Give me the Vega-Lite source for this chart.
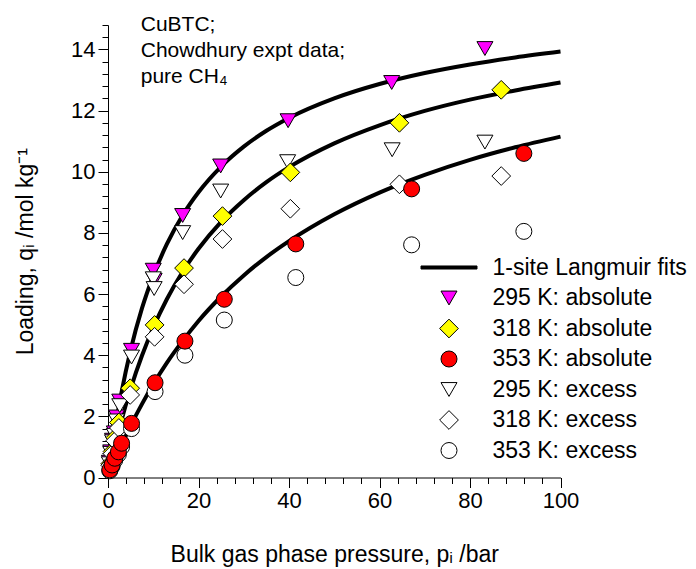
{
  "$schema": "https://vega.github.io/schema/vega-lite/v6.json",
  "width": 452.5,
  "height": 452.5,
  "autosize": "none",
  "padding": {"left": 108, "top": 25, "right": 135.5, "bottom": 91.5},
  "background": "white",
  "config": {
    "view": {"stroke": null},
    "font": "Liberation Sans",
    "axis": {
      "domainColor": "black",
      "domainWidth": 1,
      "ticks": true,
      "tickColor": "black",
      "tickWidth": 1,
      "grid": false,
      "labelColor": "black",
      "labelFont": "Liberation Sans",
      "labelFontSize": 22,
      "titleFont": "Liberation Sans",
      "titleFontSize": 23,
      "titleFontWeight": "normal",
      "titleColor": "black",
      "labelOverlap": false,
      "labelFlush": false
    }
  },
  "datasets": {
    "fits": [
      {"p": 0, "q": 0, "T": "295"}, {"p": 1, "q": 1.05, "T": "295"}, {"p": 2, "q": 1.98, "T": "295"}, {"p": 3, "q": 2.79, "T": "295"}, {"p": 5, "q": 4.17, "T": "295"}, {"p": 7.5, "q": 5.53, "T": "295"}, {"p": 10, "q": 6.6, "T": "295"}, {"p": 13, "q": 7.63, "T": "295"}, {"p": 16.5, "q": 8.58, "T": "295"}, {"p": 20, "q": 9.33, "T": "295"}, {"p": 25, "q": 10.17, "T": "295"}, {"p": 30, "q": 10.82, "T": "295"}, {"p": 35, "q": 11.34, "T": "295"}, {"p": 40, "q": 11.76, "T": "295"}, {"p": 50, "q": 12.4, "T": "295"}, {"p": 60, "q": 12.87, "T": "295"}, {"p": 70, "q": 13.23, "T": "295"}, {"p": 80, "q": 13.51, "T": "295"}, {"p": 90, "q": 13.74, "T": "295"}, {"p": 100, "q": 13.93, "T": "295"},
      {"p": 0, "q": 0, "T": "318"}, {"p": 1, "q": 0.68, "T": "318"}, {"p": 2, "q": 1.3, "T": "318"}, {"p": 3, "q": 1.88, "T": "318"}, {"p": 5, "q": 2.9, "T": "318"}, {"p": 7.5, "q": 3.98, "T": "318"}, {"p": 10, "q": 4.9, "T": "318"}, {"p": 13, "q": 5.83, "T": "318"}, {"p": 16.5, "q": 6.73, "T": "318"}, {"p": 20, "q": 7.48, "T": "318"}, {"p": 25, "q": 8.36, "T": "318"}, {"p": 30, "q": 9.07, "T": "318"}, {"p": 35, "q": 9.66, "T": "318"}, {"p": 40, "q": 10.15, "T": "318"}, {"p": 50, "q": 10.93, "T": "318"}, {"p": 60, "q": 11.52, "T": "318"}, {"p": 70, "q": 11.99, "T": "318"}, {"p": 80, "q": 12.36, "T": "318"}, {"p": 90, "q": 12.66, "T": "318"}, {"p": 100, "q": 12.92, "T": "318"},
      {"p": 0, "q": 0, "T": "353"}, {"p": 1, "q": 0.37, "T": "353"}, {"p": 2, "q": 0.72, "T": "353"}, {"p": 3, "q": 1.06, "T": "353"}, {"p": 5, "q": 1.69, "T": "353"}, {"p": 7.5, "q": 2.4, "T": "353"}, {"p": 10, "q": 3.05, "T": "353"}, {"p": 13, "q": 3.75, "T": "353"}, {"p": 16.5, "q": 4.47, "T": "353"}, {"p": 20, "q": 5.12, "T": "353"}, {"p": 25, "q": 5.92, "T": "353"}, {"p": 30, "q": 6.61, "T": "353"}, {"p": 35, "q": 7.21, "T": "353"}, {"p": 40, "q": 7.73, "T": "353"}, {"p": 50, "q": 8.61, "T": "353"}, {"p": 60, "q": 9.32, "T": "353"}, {"p": 70, "q": 9.9, "T": "353"}, {"p": 80, "q": 10.39, "T": "353"}, {"p": 90, "q": 10.8, "T": "353"}, {"p": 100, "q": 11.15, "T": "353"}
    ],
    "pts": [
      {"p": 0.3, "q": 0.5, "series": "295 K: absolute"}, {"p": 0.6, "q": 0.84, "series": "295 K: absolute"}, {"p": 1.0, "q": 1.22, "series": "295 K: absolute"}, {"p": 1.4, "q": 1.46, "series": "295 K: absolute"}, {"p": 1.9, "q": 1.98, "series": "295 K: absolute"}, {"p": 2.6, "q": 2.5, "series": "295 K: absolute"}, {"p": 5.2, "q": 4.16, "series": "295 K: absolute"}, {"p": 10.0, "q": 6.78, "series": "295 K: absolute"}, {"p": 10.2, "q": 6.45, "series": "295 K: absolute"}, {"p": 16.5, "q": 8.57, "series": "295 K: absolute"}, {"p": 24.9, "q": 10.19, "series": "295 K: absolute"}, {"p": 39.8, "q": 11.67, "series": "295 K: absolute"}, {"p": 62.7, "q": 12.92, "series": "295 K: absolute"}, {"p": 83.3, "q": 14.03, "series": "295 K: absolute"},
      {"p": 0.3, "q": 0.45, "series": "295 K: excess"}, {"p": 0.6, "q": 0.79, "series": "295 K: excess"}, {"p": 1.0, "q": 1.17, "series": "295 K: excess"}, {"p": 1.4, "q": 1.38, "series": "295 K: excess"}, {"p": 1.9, "q": 1.85, "series": "295 K: excess"}, {"p": 2.6, "q": 2.35, "series": "295 K: excess"}, {"p": 5.2, "q": 3.94, "series": "295 K: excess"}, {"p": 10.0, "q": 6.5, "series": "295 K: excess"}, {"p": 10.2, "q": 6.18, "series": "295 K: excess"}, {"p": 16.5, "q": 8.01, "series": "295 K: excess"}, {"p": 24.9, "q": 9.37, "series": "295 K: excess"}, {"p": 39.7, "q": 10.33, "series": "295 K: excess"}, {"p": 62.8, "q": 10.72, "series": "295 K: excess"}, {"p": 83.3, "q": 10.97, "series": "295 K: excess"},
      {"p": 0.5, "q": 0.45, "series": "318 K: absolute"}, {"p": 1.0, "q": 0.85, "series": "318 K: absolute"}, {"p": 1.6, "q": 1.3, "series": "318 K: absolute"}, {"p": 2.4, "q": 1.8, "series": "318 K: absolute"}, {"p": 4.9, "q": 2.92, "series": "318 K: absolute"}, {"p": 10.3, "q": 4.99, "series": "318 K: absolute"}, {"p": 16.8, "q": 6.85, "series": "318 K: absolute"}, {"p": 25.3, "q": 8.55, "series": "318 K: absolute"}, {"p": 40.3, "q": 9.98, "series": "318 K: absolute"}, {"p": 64.4, "q": 11.6, "series": "318 K: absolute"}, {"p": 86.9, "q": 12.68, "series": "318 K: absolute"},
      {"p": 0.5, "q": 0.4, "series": "318 K: excess"}, {"p": 1.0, "q": 0.78, "series": "318 K: excess"}, {"p": 1.6, "q": 1.2, "series": "318 K: excess"}, {"p": 2.4, "q": 1.62, "series": "318 K: excess"}, {"p": 4.9, "q": 2.7, "series": "318 K: excess"}, {"p": 10.3, "q": 4.6, "series": "318 K: excess"}, {"p": 16.8, "q": 6.32, "series": "318 K: excess"}, {"p": 25.3, "q": 7.8, "series": "318 K: excess"}, {"p": 40.3, "q": 8.79, "series": "318 K: excess"}, {"p": 64.4, "q": 9.59, "series": "318 K: excess"}, {"p": 86.9, "q": 9.86, "series": "318 K: excess"},
      {"p": 0.4, "q": 0.22, "series": "353 K: excess"}, {"p": 0.9, "q": 0.37, "series": "353 K: excess"}, {"p": 1.5, "q": 0.57, "series": "353 K: excess"}, {"p": 2.3, "q": 0.76, "series": "353 K: excess"}, {"p": 3.0, "q": 1.0, "series": "353 K: excess"}, {"p": 5.2, "q": 1.6, "series": "353 K: excess"}, {"p": 10.4, "q": 2.81, "series": "353 K: excess"}, {"p": 17.0, "q": 4.0, "series": "353 K: excess"}, {"p": 25.7, "q": 5.15, "series": "353 K: excess"}, {"p": 41.5, "q": 6.54, "series": "353 K: excess"}, {"p": 67.1, "q": 7.61, "series": "353 K: excess"}, {"p": 91.9, "q": 8.05, "series": "353 K: excess"},
      {"p": 0.4, "q": 0.25, "series": "353 K: absolute"}, {"p": 0.9, "q": 0.41, "series": "353 K: absolute"}, {"p": 1.5, "q": 0.63, "series": "353 K: absolute"}, {"p": 2.3, "q": 0.84, "series": "353 K: absolute"}, {"p": 3.0, "q": 1.12, "series": "353 K: absolute"}, {"p": 5.2, "q": 1.77, "series": "353 K: absolute"}, {"p": 10.4, "q": 3.1, "series": "353 K: absolute"}, {"p": 17.0, "q": 4.46, "series": "353 K: absolute"}, {"p": 25.7, "q": 5.83, "series": "353 K: absolute"}, {"p": 41.5, "q": 7.64, "series": "353 K: absolute"}, {"p": 67.1, "q": 9.44, "series": "353 K: absolute"}, {"p": 91.9, "q": 10.6, "series": "353 K: absolute"}
    ]
  },
  "layer": [
    {
      "data": {"name": "fits"},
      "mark": {"type": "line", "stroke": "black", "strokeWidth": 4, "interpolate": "monotone"},
      "encoding": {
        "x": {
          "field": "p", "type": "quantitative",
          "scale": {"domain": [0, 100], "nice": false, "zero": false},
          "axis": {
            "title": "Bulk gas phase pressure, pᵢ /bar",
            "values": [0, 4, 8, 12, 16, 20, 24, 28, 32, 36, 40, 44, 48, 52, 56, 60, 64, 68, 72, 76, 80, 84, 88, 92, 96, 100],
            "tickCount": 200,
            "labelExpr": "datum.value % 20 == 0 ? format(datum.value, 'd') : ''",
            "tickSize": {"condition": {"test": "datum.value % 20 == 0", "value": 10}, "value": 6},
            "labelPadding": 3,
            "titlePadding": 32
          }
        },
        "y": {
          "field": "q", "type": "quantitative",
          "scale": {"domain": [0, 14.8], "nice": false, "zero": false},
          "axis": {
            "title": "Loading, qᵢ /mol kg⁻¹",
            "values": [0, 0.4, 0.8, 1.2, 1.6, 2, 2.4, 2.8, 3.2, 3.6, 4, 4.4, 4.8, 5.2, 5.6, 6, 6.4, 6.8, 7.2, 7.6, 8, 8.4, 8.8, 9.2, 9.6, 10, 10.4, 10.8, 11.2, 11.6, 12, 12.4, 12.8, 13.2, 13.6, 14, 14.4, 14.8],
            "tickCount": 200,
            "labelExpr": "datum.value % 2 == 0 ? format(datum.value, 'd') : ''",
            "tickSize": {"condition": {"test": "datum.value % 2 == 0", "value": 10}, "value": 6},
            "labelPadding": 3,
            "titlePadding": 33
          }
        },
        "detail": {"field": "T", "type": "nominal"}
      }
    },
    {
      "data": {"name": "pts"},
      "mark": {"type": "point", "filled": true, "size": 256, "strokeWidth": 1, "opacity": 1},
      "encoding": {
        "x": {"field": "p", "type": "quantitative"},
        "y": {"field": "q", "type": "quantitative"},
        "shape": {
          "field": "series", "type": "nominal",
          "scale": {
            "domain": ["1-site Langmuir fits", "295 K: absolute", "318 K: absolute", "353 K: absolute", "295 K: excess", "318 K: excess", "353 K: excess"],
            "range": ["M-3.5,-0.19H3.5V0.19H-3.5Z", "triangle-down", "M-1.17,0L0,-1.17L1.17,0L0,1.17Z", "circle", "triangle-down", "M-1.17,0L0,-1.17L1.17,0L0,1.17Z", "circle"]
          },
          "legend": {
            "title": null, "orient": "none", "legendX": 329.5, "legendY": 231, "padding": 0,
            "labelFont": "Liberation Sans", "labelFontSize": 23, "labelColor": "black", "labelOffset": 32,
            "symbolSize": 256, "symbolStrokeWidth": 1, "symbolStrokeColor": "black", "rowPadding": 6.5, "labelLimit": 400
          }
        },
        "fill": {
          "field": "series", "type": "nominal",
          "scale": {
            "domain": ["1-site Langmuir fits", "295 K: absolute", "318 K: absolute", "353 K: absolute", "295 K: excess", "318 K: excess", "353 K: excess"],
            "range": ["black", "#ff00ff", "#ffff00", "#ff0000", "white", "white", "white"]
          },
          "legend": {
            "title": null, "orient": "none", "legendX": 329.5, "legendY": 231, "padding": 0,
            "labelFont": "Liberation Sans", "labelFontSize": 23, "labelColor": "black", "labelOffset": 32,
            "symbolSize": 256, "symbolStrokeWidth": 1, "symbolStrokeColor": "black", "rowPadding": 6.5, "labelLimit": 400
          }
        },
        "stroke": {
          "field": "series", "type": "nominal",
          "scale": {
            "domain": ["1-site Langmuir fits", "295 K: absolute", "318 K: absolute", "353 K: absolute", "295 K: excess", "318 K: excess", "353 K: excess"],
            "range": ["black", "black", "black", "black", "black", "black", "black"]
          },
          "legend": {
            "title": null, "orient": "none", "legendX": 329.5, "legendY": 231, "padding": 0,
            "labelFont": "Liberation Sans", "labelFontSize": 23, "labelColor": "black", "labelOffset": 32,
            "symbolSize": 256, "symbolStrokeWidth": 1, "symbolStrokeColor": "black", "rowPadding": 6.5, "labelLimit": 400
          }
        }
      }
    },
    {
      "data": {"values": [{"line": "a"}]},
      "mark": {"type": "text", "text": ["CuBTC;", "Chowdhury expt data;", "pure CH₄"], "align": "left", "baseline": "alphabetic", "fontSize": 21, "lineHeight": 26, "font": "Liberation Sans", "color": "black"},
      "encoding": {
        "x": {"datum": 7.23, "type": "quantitative"},
        "y": {"datum": 14.62, "type": "quantitative"}
      }
    }
  ]
}
